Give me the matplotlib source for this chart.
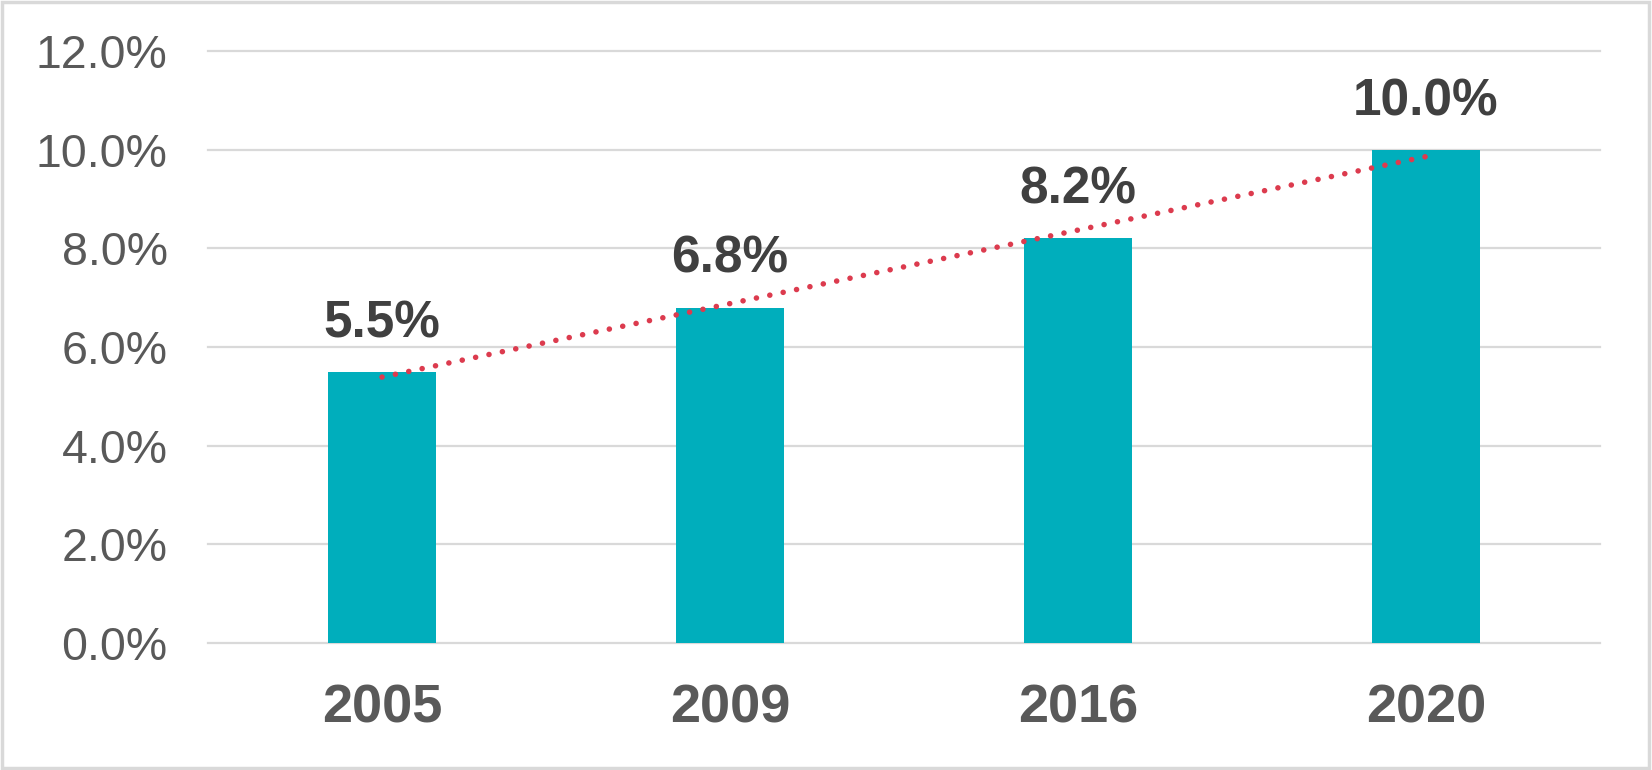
import numpy as np
import matplotlib.pyplot as plt
from matplotlib.patches import Rectangle

# data
years = ["2005", "2009", "2016", "2020"]
shares = [5.5, 6.8, 8.2, 10.0]
ytick_vals = [0, 2, 4, 6, 8, 10, 12]

bar_color = "#00AEBC"
trend_color = "#DC3B4E"
grid_color = "#D9D9D9"

plt.rcParams["font.family"] = ["Liberation Sans", "DejaVu Sans"]

fig = plt.figure(figsize=(16.52, 7.7), dpi=100)
ax = fig.add_axes([208 / 1652, 127 / 770, 1392 / 1652, 592 / 770])

x = np.arange(len(years))
ax.bar(x, shares, width=0.31, color=bar_color, zorder=2)

# linear trendline (like excel)
slope, icpt = np.polyfit(x, shares, 1)
ax.plot(x[[0, -1]], icpt + slope * x[[0, -1]], color=trend_color, lw=4,
        linestyle=(0, (0.01, 2.45)), dash_capstyle="round", zorder=3)

for xi, v in zip(x, shares):
    ax.annotate("%.1f%%" % v, (xi, v), xytext=(0, 17), textcoords="offset points",
                ha="center", va="bottom", fontsize=37, fontweight="bold", color="#404040")

ax.set_xlim(-0.5, len(years) - 0.5)
ax.set_ylim(0, 12)
ax.set_yticks(ytick_vals)
ax.set_yticklabels(["%.1f%%" % v for v in ytick_vals])
ax.set_xticks(x)
ax.set_xticklabels(years, fontweight="bold", fontsize=39)
ax.tick_params(axis="y", length=0, pad=29, labelsize=33.5, labelcolor="#595959")
ax.tick_params(axis="x", length=0, pad=29, labelcolor="#595959")
ax.yaxis.grid(True, color=grid_color, lw=1.6, zorder=0)
for gl in ax.get_ygridlines():
    gl.set_clip_on(False)
ax.set_axisbelow(True)
for sp in ax.spines.values():
    sp.set_visible(False)

# outer frame
fig.patches.append(Rectangle((0.001, 0.002), 0.997, 0.996, transform=fig.transFigure,
                             fill=False, edgecolor=grid_color, lw=2.5))

fig.savefig("out.png", dpi=100)
